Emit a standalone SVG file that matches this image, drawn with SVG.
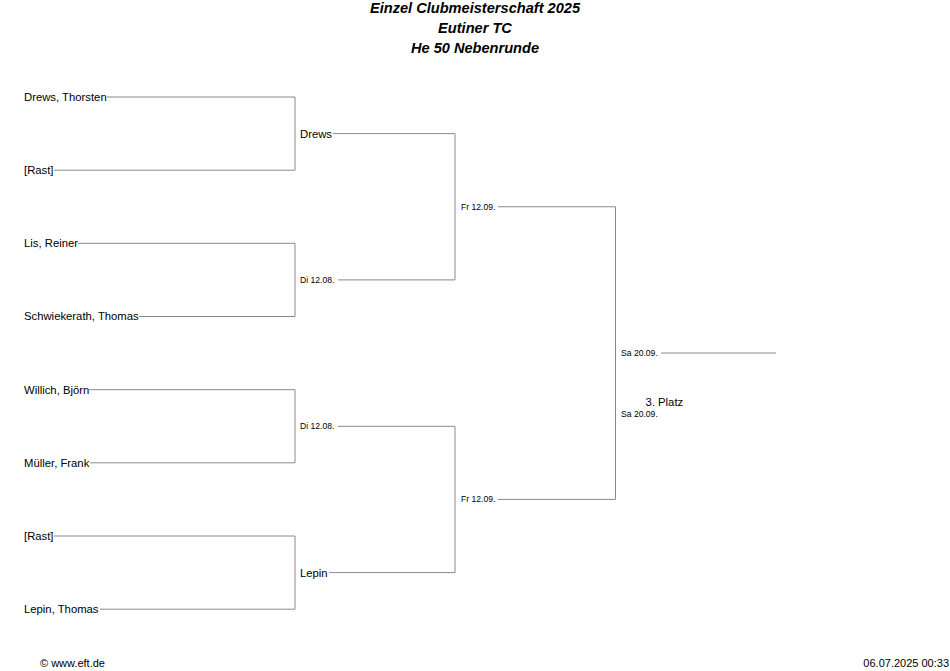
<svg xmlns="http://www.w3.org/2000/svg" width="950" height="671" viewBox="0 0 950 671">
<style>
text{font-family:"Liberation Sans",Arial,sans-serif;fill:#000}
.t{font-size:14.6px;font-weight:bold;font-style:italic;text-anchor:middle}
.n{font-size:11.3px}
.d{font-size:8.6px}
.f{font-size:11px}
.c path{fill:none;stroke:#8a8a8a;stroke-width:1}
</style>
<rect width="950" height="671" fill="#fff"/>
<g id="title">
<text class="t" x="475" y="13">Einzel Clubmeisterschaft 2025</text>
<text class="t" x="475" y="33">Eutiner TC</text>
<text class="t" x="475" y="53">He 50 Nebenrunde</text>
</g>
<g id="connectors" class="c">
<path d="M107 97H295V170.2H54"/>
<path d="M78 243.3H295V316.5H139"/>
<path d="M89 389.7H295V462.8H90"/>
<path d="M54 536H295V609.2H100"/>
<path d="M333 133.6H455V279.9H338"/>
<path d="M338 426.3H455V572.6H329"/>
<path d="M498 206.75H615.5V499.4H498"/>
<path d="M661 353H776"/>
</g>
<g id="r1">
<text class="n" x="24" y="100.9">Drews, Thorsten</text>
<text class="n" x="24" y="174.1">[Rast]</text>
<text class="n" x="24" y="247.2">Lis, Reiner</text>
<text class="n" x="24" y="320.4">Schwiekerath, Thomas</text>
<text class="n" x="24" y="393.6">Willich, Björn</text>
<text class="n" x="24" y="466.7">Müller, Frank</text>
<text class="n" x="24" y="539.9">[Rast]</text>
<text class="n" x="24" y="613.1">Lepin, Thomas</text>
</g>
<g id="r2">
<text class="n" x="300" y="137.5">Drews</text>
<text class="d" x="300" y="282.9">Di 12.08.</text>
<text class="d" x="300" y="429.3">Di 12.08.</text>
<text class="n" x="300" y="576.5">Lepin</text>
</g>
<g id="r3">
<text class="d" x="461" y="209.75">Fr 12.09.</text>
<text class="d" x="461" y="502.4">Fr 12.09.</text>
</g>
<g id="final">
<text class="d" x="621" y="356">Sa 20.09.</text>
</g>
<g id="third">
<text class="n" x="645.5" y="406">3. Platz</text>
<text class="d" x="621" y="417">Sa 20.09.</text>
</g>
<g id="footer">
<text class="f" x="40" y="667.3">© www.eft.de</text>
<text class="f" x="949" y="667.3" text-anchor="end">06.07.2025 00:33</text>
</g>
</svg>
